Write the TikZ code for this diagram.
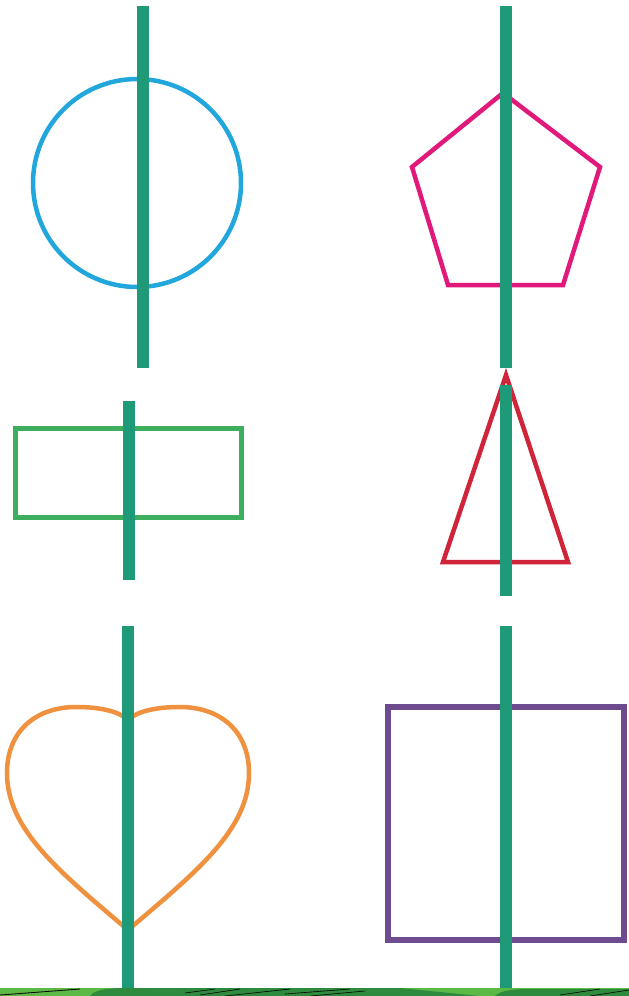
\documentclass[tikz,border=0pt]{standalone}
\definecolor{axisgreen}{HTML}{1E9A78}
\definecolor{circblue}{HTML}{22A7DD}
\definecolor{pentpink}{HTML}{E0197A}
\definecolor{rectgreen}{HTML}{3DAE5E}
\definecolor{trired}{HTML}{D0243A}
\definecolor{heartorange}{HTML}{F0913F}
\definecolor{sqpurple}{HTML}{6E4A8E}
\definecolor{grasslight}{HTML}{5DB946}
\definecolor{grassdark}{HTML}{2E8B3E}
\begin{document}
\begin{tikzpicture}[x=1pt,y=-1pt,
  axis/.style={axisgreen,line width=12pt},
  shapeline/.style={line width=4.5pt,line join=miter}]
\useasboundingbox (0,0) rectangle (629,996);
\fill[white] (0,0) rectangle (629,996);
% shapes
\draw[shapeline,circblue] (137,183) circle[radius=104];
\draw[shapeline,pentpink] (503,93) -- (600,167) -- (563,285) -- (448,285) -- (412,167) -- cycle;
\draw[shapeline,rectgreen,line width=5pt] (15,428) rectangle (241,517);
\draw[shapeline,trired] (506,375) -- (568,562) -- (443,562) -- cycle;
\draw[shapeline,heartorange] (128,930) .. controls (60,872) and (7,830) .. (7,773)
  .. controls (7,730) and (37,707) .. (76,707)
  .. controls (102,707) and (120,712) .. (128,720)
  .. controls (136,712) and (154,707) .. (180,707)
  .. controls (219,707) and (249,730) .. (249,773)
  .. controls (249,830) and (196,872) .. (128,930) -- cycle;
\draw[shapeline,sqpurple,line width=6pt] (388,707) rectangle (624,940);
% grass strip
\fill[grasslight] (0,988) rectangle (629,996);
\fill[grassdark] (90,996) .. controls (95,989) and (110,988) .. (130,988) -- (400,988) -- (480,996) -- cycle;
\fill[grassdark] (495,996) .. controls (500,991) and (510,989) .. (530,989) -- (629,989) -- (629,996) -- cycle;
\draw[black,line width=0.8pt] (0,995) -- (80,989);
\draw[black,line width=0.6pt] (185,993) -- (215,989);
\draw[black,line width=0.6pt] (200,995) -- (240,989);
\draw[black,line width=0.6pt] (225,996) -- (290,989);
\draw[black,line width=0.6pt] (285,994) -- (350,989);
\draw[black,line width=0.6pt] (310,996) -- (365,991);
\draw[black,line width=0.6pt] (560,995) -- (600,989);
\draw[black,line width=0.6pt] (590,996) -- (629,990);
% symmetry axes
\draw[axis] (143,6) -- (143,368);
\draw[axis] (506,6) -- (506,368);
\draw[axis] (129,401) -- (129,580);
\draw[axis] (506,385) -- (506,596);
\draw[axis] (128,626) -- (128,988);
\draw[axis] (506,626) -- (506,988);
\end{tikzpicture}
\end{document}
